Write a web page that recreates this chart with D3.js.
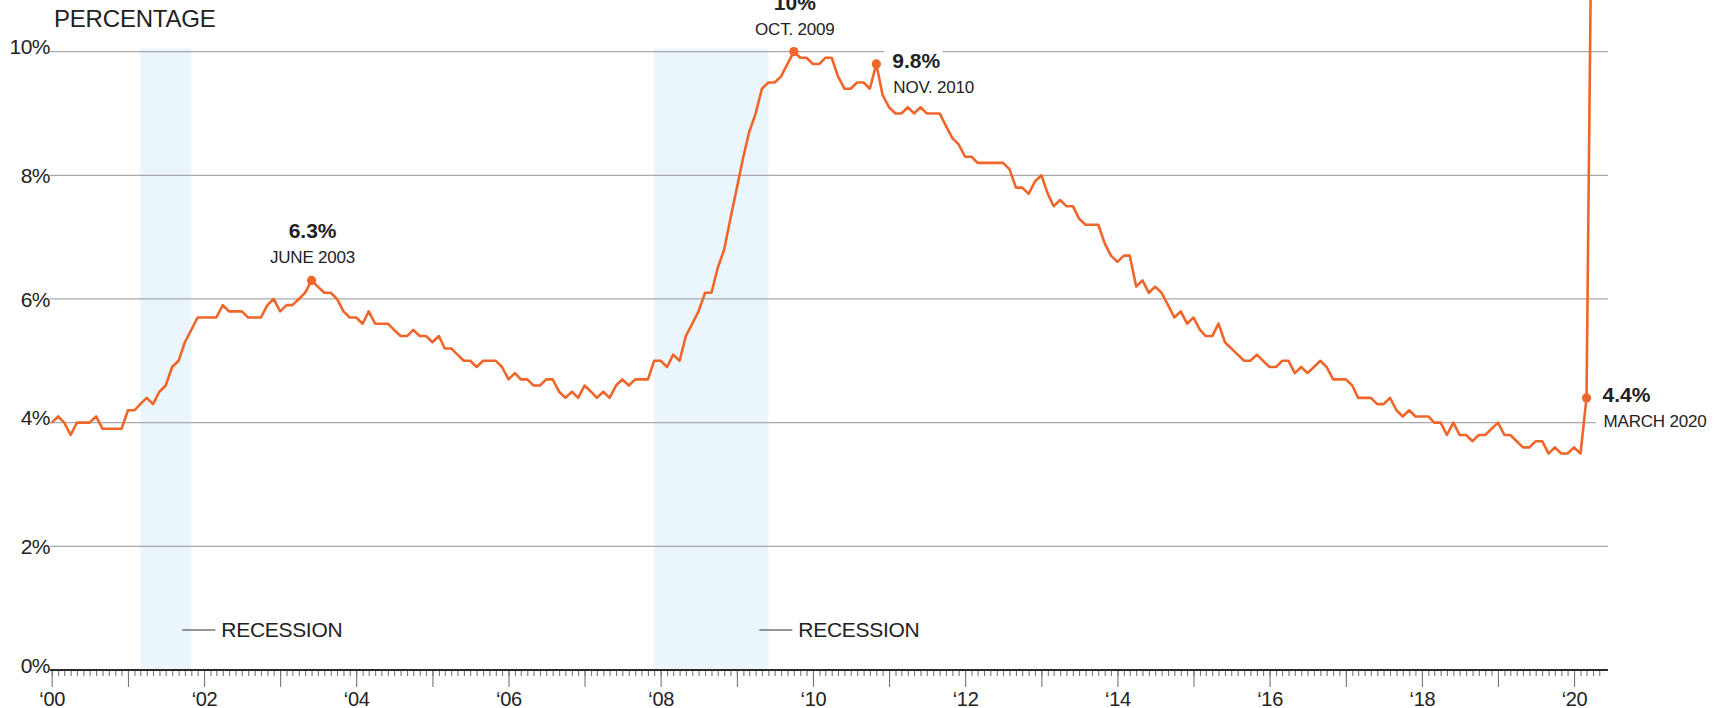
<!DOCTYPE html>
<html>
<head>
<meta charset="utf-8">
<script src="https://d3js.org/d3.v7.min.js"></script>
<style>
 body { margin: 0; background: #fff; }
 svg { display: block; font-family: "Liberation Sans", Arial, Helvetica, sans-serif; }
</style>
</head>
<body>
<div id="chart"></div>
<script>
// monthly unemployment rate (%), Jan 2000 - Apr 2020
var firstMonth = '2000-01';
var rates = [
 4.0, 4.1, 4.0, 3.8, 4.0, 4.0, 4.0, 4.1, 3.9, 3.9, 3.9, 3.9,   // 2000
 4.2, 4.2, 4.3, 4.4, 4.3, 4.5, 4.6, 4.9, 5.0, 5.3, 5.5, 5.7,   // 2001
 5.7, 5.7, 5.7, 5.9, 5.8, 5.8, 5.8, 5.7, 5.7, 5.7, 5.9, 6.0,   // 2002
 5.8, 5.9, 5.9, 6.0, 6.1, 6.3, 6.2, 6.1, 6.1, 6.0, 5.8, 5.7,   // 2003
 5.7, 5.6, 5.8, 5.6, 5.6, 5.6, 5.5, 5.4, 5.4, 5.5, 5.4, 5.4,   // 2004
 5.3, 5.4, 5.2, 5.2, 5.1, 5.0, 5.0, 4.9, 5.0, 5.0, 5.0, 4.9,   // 2005
 4.7, 4.8, 4.7, 4.7, 4.6, 4.6, 4.7, 4.7, 4.5, 4.4, 4.5, 4.4,   // 2006
 4.6, 4.5, 4.4, 4.5, 4.4, 4.6, 4.7, 4.6, 4.7, 4.7, 4.7, 5.0,   // 2007
 5.0, 4.9, 5.1, 5.0, 5.4, 5.6, 5.8, 6.1, 6.1, 6.5, 6.8, 7.3,   // 2008
 7.8, 8.3, 8.7, 9.0, 9.4, 9.5, 9.5, 9.6, 9.8, 10.0, 9.9, 9.9,  // 2009
 9.8, 9.8, 9.9, 9.9, 9.6, 9.4, 9.4, 9.5, 9.5, 9.4, 9.8, 9.3,   // 2010
 9.1, 9.0, 9.0, 9.1, 9.0, 9.1, 9.0, 9.0, 9.0, 8.8, 8.6, 8.5,   // 2011
 8.3, 8.3, 8.2, 8.2, 8.2, 8.2, 8.2, 8.1, 7.8, 7.8, 7.7, 7.9,   // 2012
 8.0, 7.7, 7.5, 7.6, 7.5, 7.5, 7.3, 7.2, 7.2, 7.2, 6.9, 6.7,   // 2013
 6.6, 6.7, 6.7, 6.2, 6.3, 6.1, 6.2, 6.1, 5.9, 5.7, 5.8, 5.6,   // 2014
 5.7, 5.5, 5.4, 5.4, 5.6, 5.3, 5.2, 5.1, 5.0, 5.0, 5.1, 5.0,   // 2015
 4.9, 4.9, 5.0, 5.0, 4.8, 4.9, 4.8, 4.9, 5.0, 4.9, 4.7, 4.7,   // 2016
 4.7, 4.6, 4.4, 4.4, 4.4, 4.3, 4.3, 4.4, 4.2, 4.1, 4.2, 4.1,   // 2017
 4.1, 4.1, 4.0, 4.0, 3.8, 4.0, 3.8, 3.8, 3.7, 3.8, 3.8, 3.9,   // 2018
 4.0, 3.8, 3.8, 3.7, 3.6, 3.6, 3.7, 3.7, 3.5, 3.6, 3.5, 3.5,   // 2019
 3.6, 3.5, 4.4, 14.7                                           // 2020
];

// recessions (first and last month)
var recessionStarts = ['2001-03', '2007-12'];
var recessionEnds = ['2001-11', '2009-06'];

// axis ticks
var yTicks = [0, 2, 4, 6, 8, 10];
var xLabelYears = [2000, 2002, 2004, 2006, 2008, 2010, 2012, 2014, 2016, 2018, 2020];

// annotated points
var noteMonths = ['2003-06', '2009-10', '2010-11', '2020-03'];
var noteValues = [6.3, 10, 9.8, 4.4];
var noteLabels = ['6.3%', '10%', '9.8%', '4.4%'];
var noteSubs = ['JUNE 2003', 'OCT. 2009', 'NOV. 2010', 'MARCH 2020'];

var W = 1720, H = 708;
var orange = '#f0662a';
var ink = '#222';
var parseMonth = d3.timeParse('%Y-%m');

var start = parseMonth(firstMonth);
var series = rates.map(function(v, i) {
 return { date: d3.timeMonth.offset(start, i), v: v };
});

var x = d3.scaleTime()
 .domain([new Date(2000, 0, 1), new Date(2020, 5, 12)])
 .range([51.7, 1608]);
var y = d3.scaleLinear().domain([0, 10]).range([670, 51.6]);

var svg = d3.select('#chart').append('svg')
 .attr('width', W).attr('height', H);

// layers, drawn bottom to top
var shadeLayer = svg.append('g');
var gridLayer = svg.append('g');
var noteBgLayer = svg.append('g');
var lineLayer = svg.append('g');
var noteLayer = svg.append('g');
var axisLayer = svg.append('g');

// recession shading
recessionStarts.forEach(function(s, i) {
 var x0 = x(parseMonth(s)), x1 = x(parseMonth(recessionEnds[i]));
 shadeLayer.append('rect')
  .attr('x', x0).attr('y', y(10) - 3)
  .attr('width', x1 - x0).attr('height', y(0) - y(10) + 3)
  .attr('fill', '#eaf5fc');
 // label
 shadeLayer.append('line')
  .attr('x1', x1 - 9).attr('x2', x1 + 24)
  .attr('y1', y(0) - 40).attr('y2', y(0) - 40)
  .attr('stroke', '#333').attr('stroke-width', 1);
 shadeLayer.append('text')
  .attr('x', x1 + 30).attr('y', y(0) - 33)
  .attr('font-size', 21).attr('fill', ink)
  .attr('letter-spacing', -0.3)
  .text('RECESSION');
});

// gridlines + y labels
yTicks.forEach(function(t) {
 if (t > 0) {
  gridLayer.append('line')
   .attr('x1', 50).attr('x2', 1608)
   .attr('y1', y(t)).attr('y2', y(t))
   .attr('stroke', '#a9a9a9').attr('stroke-width', 1.3);
 }
 var raised = (t === 0 || t === 4 || t === 10);
 gridLayer.append('text')
  .attr('x', 50).attr('y', y(t) + (raised ? 2.5 : 8))
  .attr('text-anchor', 'end')
  .attr('font-size', 21).attr('fill', ink)
  .attr('letter-spacing', -0.5)
  .text(t + '%');
});

svg.append('text')
 .attr('x', 54).attr('y', 27)
 .attr('font-size', 24).attr('fill', ink)
 .attr('letter-spacing', -0.2)
 .text('PERCENTAGE');

// the line
var line = d3.line()
 .x(function(d) { return x(d.date); })
 .y(function(d) { return y(d.v); });

lineLayer.append('path')
 .datum(series)
 .attr('d', line)
 .attr('fill', 'none')
 .attr('stroke', orange)
 .attr('stroke-width', 2.6)
 .attr('stroke-linejoin', 'round');

// annotations
noteMonths.forEach(function(m, i) {
 var px = x(parseMonth(m)), py = y(noteValues[i]);
 lineLayer.append('circle')
  .attr('cx', px).attr('cy', py).attr('r', 4.6)
  .attr('fill', orange);

 var above = i < 2;   // first two sit above their point, the others to the right
 var big = noteLayer.append('text')
  .attr('font-size', 21).attr('font-weight', 'bold').attr('fill', ink)
  .text(noteLabels[i]);
 var small = noteLayer.append('text')
  .attr('font-size', 17).attr('fill', ink)
  .attr('letter-spacing', -0.2)
  .text(noteSubs[i]);
 if (above) {
  big.attr('x', px + 1).attr('y', py - 42).attr('text-anchor', 'middle');
  small.attr('x', px + 1).attr('y', py - 17).attr('text-anchor', 'middle');
 } else {
  big.attr('x', px + 16).attr('y', py + 4);
  small.attr('x', px + 17).attr('y', py + 29);
  // knock the gridlines out behind each text
  [big, small].forEach(function(t) {
   var b = t.node().getBBox();
   noteBgLayer.append('rect')
    .attr('x', b.x - 8).attr('y', b.y)
    .attr('width', b.width + 10).attr('height', b.height)
    .attr('fill', '#fff');
  });
 }
});

// x axis: monthly minor ticks, yearly major ticks
var axisY = y(0);
var minor = d3.axisBottom(x)
 .tickValues(d3.timeMonth.range(new Date(2000, 0, 1), new Date(2020, 5, 1)))
 .tickSize(6).tickSizeOuter(0).tickFormat('');
var major = d3.axisBottom(x)
 .tickValues(d3.timeYear.range(new Date(2000, 0, 1), new Date(2021, 0, 1)))
 .tickSize(17).tickSizeOuter(0)
 .tickFormat(function(d) {
  return xLabelYears.indexOf(d.getFullYear()) >= 0 ? '\u2018' + d3.timeFormat('%y')(d) : '';
 });

var gMinor = axisLayer.append('g').attr('transform', 'translate(0,' + axisY + ')').call(minor);
var gMajor = axisLayer.append('g').attr('transform', 'translate(0,' + axisY + ')').call(major);
[gMinor, gMajor].forEach(function(g) {
 g.select('.domain').remove();
 g.selectAll('.tick line').attr('stroke', '#777').attr('stroke-width', 1.1);
});
gMajor.selectAll('.tick text')
 .attr('y', 35.5).attr('dy', 0)
 .attr('font-family', '"Liberation Sans", Arial, Helvetica, sans-serif')
 .attr('font-size', 20).attr('fill', ink)
 .attr('letter-spacing', -0.3);

axisLayer.append('line')
 .attr('x1', 50).attr('x2', 1608)
 .attr('y1', axisY).attr('y2', axisY)
 .attr('stroke', '#2a2a2a').attr('stroke-width', 2.2);
</script>
</body>
</html>
